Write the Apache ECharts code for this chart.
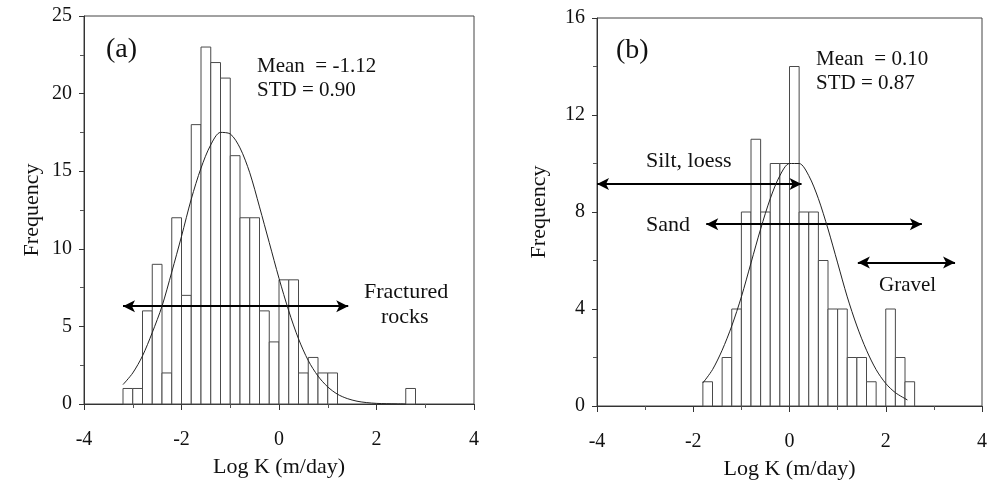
<!DOCTYPE html>
<html>
<head>
<meta charset="utf-8">
<style>
  html, body { margin: 0; padding: 0; background: #fff; }
  #chart { width: 990px; height: 486px; }
</style>
<script src="https://cdn.jsdelivr.net/npm/echarts@6/dist/echarts.min.js"></script>
</head>
<body>
<div id="chart"></div>
<script>
// Histogram bin width (log K units)
const BIN_WIDTH = 0.2;

// Panel (a): fractured rocks — lower bin edges and counts
const binLowA = [-3.2, -3.0, -2.8, -2.6, -2.4, -2.2, -2.0, -1.8, -1.6, -1.4, -1.2, -1.0,
                 -0.8, -0.6, -0.4, -0.2, 0.0, 0.2, 0.4, 0.6, 0.8, 1.0, 2.6];
const countsA = [1, 1, 6, 9, 2, 12, 7, 18, 23, 22, 21, 16,
                 12, 12, 6, 4, 8, 8, 2, 3, 2, 2, 1];

// Panel (a): fitted normal curve (x, frequency)
const curveXA = [-3.2, -3.0, -2.8, -2.6, -2.4, -2.2, -2.0, -1.8, -1.6, -1.4, -1.2, -1.0,
                 -0.8, -0.6, -0.4, -0.2, 0.0, 0.2, 0.4, 0.6, 0.8, 1.0, 1.2, 1.4, 1.6,
                 1.8, 2.0, 2.2, 2.4, 2.6];
const curveYA = [1.25, 2.0, 3.1, 4.6, 6.3, 8.5, 10.8, 13.2, 15.2, 16.7, 17.5, 17.4,
                 16.5, 14.9, 12.7, 10.4, 8.1, 6.0, 4.2, 2.8, 1.8, 1.1, 0.63, 0.35, 0.18,
                 0.09, 0.04, 0.02, 0.01, 0.0];

// Panel (b): unconsolidated sediments — lower bin edges and counts
const binLowB = [-1.8, -1.4, -1.2, -1.0, -0.8, -0.6, -0.4, -0.2, 0.0, 0.2, 0.4,
                 0.6, 0.8, 1.0, 1.2, 1.4, 1.6, 2.0, 2.2, 2.4];
const countsB = [1, 2, 4, 8, 11, 8, 10, 10, 14, 8, 8,
                 6, 4, 4, 2, 2, 1, 4, 2, 1];

// Panel (b): fitted normal curve
const curveXB = [-1.8, -1.6, -1.4, -1.2, -1.0, -0.8, -0.6, -0.4, -0.2, 0.0, 0.2, 0.4,
                 0.6, 0.8, 1.0, 1.2, 1.4, 1.6, 1.8, 2.0, 2.2, 2.45];
const curveYB = [0.95, 1.5, 2.3, 3.3, 4.5, 5.9, 7.3, 8.55, 9.5, 10.0, 10.0, 9.5,
                 8.55, 7.3, 5.9, 4.5, 3.3, 2.3, 1.5, 0.93, 0.55, 0.25];

// Range arrows: [x start, x end, frequency level]
const rangeFractured = [-3.2, 1.42, 6.3];
const rangeSilt = [-4.0, 0.25, 9.15];
const rangeSand = [-1.73, 2.75, 7.5];
const rangeGravel = [1.42, 3.44, 5.92];

// Axis ticks
const xTicks = { min: -4, max: 4, interval: 2 };
const yTicksA = { min: 0, max: 25, interval: 5 };
const yTicksB = { min: 0, max: 16, interval: 4 };

const SERIF = '"Liberation Serif", "Times New Roman", serif';
const INK = '#111';

function histData(lows, counts) {
  return lows.map((lo, i) => [lo, lo + BIN_WIDTH, counts[i]]);
}
function pairs(xs, ys) {
  return xs.map((x, i) => [x, ys[i]]);
}

function renderBin(params, api) {
  const top = api.coord([api.value(0), api.value(2)]);
  const base = api.coord([api.value(1), 0]);
  return {
    type: 'rect',
    shape: { x: top[0], y: top[1], width: base[0] - top[0], height: base[1] - top[1] },
    style: { fill: '#fff', stroke: '#4a4a4a', lineWidth: 1 }
  };
}

function arrowLine(r) {
  return [{ coord: [r[0], r[2]] }, { coord: [r[1], r[2]] }];
}

function xAxisFor(gridIndex) {
  return {
    type: 'value', gridIndex, min: xTicks.min, max: xTicks.max, interval: xTicks.interval,
    name: 'Log K (m/day)', nameLocation: 'middle', nameGap: 52,
    nameTextStyle: { fontFamily: SERIF, fontSize: 22, color: INK },
    axisLine: { onZero: false, lineStyle: { color: '#333', width: 1 } },
    axisTick: { length: 6, lineStyle: { color: '#333' } },
    minorTick: { show: true, splitNumber: 2, length: 4, lineStyle: { color: '#555' } },
    splitLine: { show: false },
    axisLabel: { fontFamily: SERIF, fontSize: 20, color: INK, margin: 26 }
  };
}

function yAxisFor(gridIndex, t, gap) {
  return {
    type: 'value', gridIndex, min: t.min, max: t.max, interval: t.interval,
    name: 'Frequency', nameLocation: 'middle', nameGap: gap,
    nameTextStyle: { fontFamily: SERIF, fontSize: 22, color: INK },
    axisLine: { show: true, onZero: false, lineStyle: { color: '#333', width: 1 } },
    axisTick: { show: true, length: 5, lineStyle: { color: '#333' } },
    minorTick: { show: true, splitNumber: 2, length: 4, lineStyle: { color: '#555' } },
    splitLine: { show: false },
    axisLabel: { fontFamily: SERIF, fontSize: 20, color: INK, margin: 12 }
  };
}

const arrowStyle = {
  silent: true,
  symbol: ['arrow', 'arrow'],
  symbolSize: [9, 12],
  label: { show: false },
  lineStyle: { color: '#000', width: 2, type: 'solid' },
  emphasis: { disabled: true }
};

function text(x, y, str, size, align) {
  return {
    type: 'text', left: x, top: y,
    style: { text: str, font: size + 'px ' + SERIF, fill: INK, textAlign: align || 'left' }
  };
}

const chart = echarts.init(document.getElementById('chart'), null, { renderer: 'canvas' });
chart.setOption({
  animation: false,
  backgroundColor: '#fff',
  grid: [
    { left: 84, right: 516, top: 16, bottom: 82, show: true, borderColor: '#444', borderWidth: 1 },
    { left: 597, right: 4, top: 18, bottom: 80, show: true, borderColor: '#444', borderWidth: 1 }
  ],
  xAxis: [xAxisFor(0), xAxisFor(1)],
  yAxis: [yAxisFor(0, yTicksA, 41), yAxisFor(1, yTicksB, 47)],
  series: [
    {
      type: 'custom', xAxisIndex: 0, yAxisIndex: 0, renderItem: renderBin,
      data: histData(binLowA, countsA), silent: true
    },
    {
      type: 'line', xAxisIndex: 0, yAxisIndex: 0, smooth: 0.3, showSymbol: false,
      data: pairs(curveXA, curveYA), silent: true,
      lineStyle: { color: '#222', width: 1 }, z: 5,
      markLine: Object.assign({ data: [arrowLine(rangeFractured)] }, arrowStyle)
    },
    {
      type: 'custom', xAxisIndex: 1, yAxisIndex: 1, renderItem: renderBin,
      data: histData(binLowB, countsB), silent: true
    },
    {
      type: 'line', xAxisIndex: 1, yAxisIndex: 1, smooth: 0.3, showSymbol: false,
      data: pairs(curveXB, curveYB), silent: true,
      lineStyle: { color: '#222', width: 1 }, z: 5,
      markLine: Object.assign({
        data: [arrowLine(rangeSilt), arrowLine(rangeSand), arrowLine(rangeGravel)]
      }, arrowStyle)
    }
  ],
  graphic: [
    text(106, 36, '(a)', 28),
    text(257, 56, 'Mean  = -1.12', 21),
    text(257, 80, 'STD = 0.90', 21),
    text(364, 281, 'Fractured', 22),
    text(381, 306, 'rocks', 22),
    text(616, 37, '(b)', 28),
    text(816, 49, 'Mean  = 0.10', 21),
    text(816, 73, 'STD = 0.87', 21),
    text(646, 150, 'Silt, loess', 22),
    text(646, 214, 'Sand', 22),
    text(879, 275, 'Gravel', 21)
  ]
});
</script>
</body>
</html>
